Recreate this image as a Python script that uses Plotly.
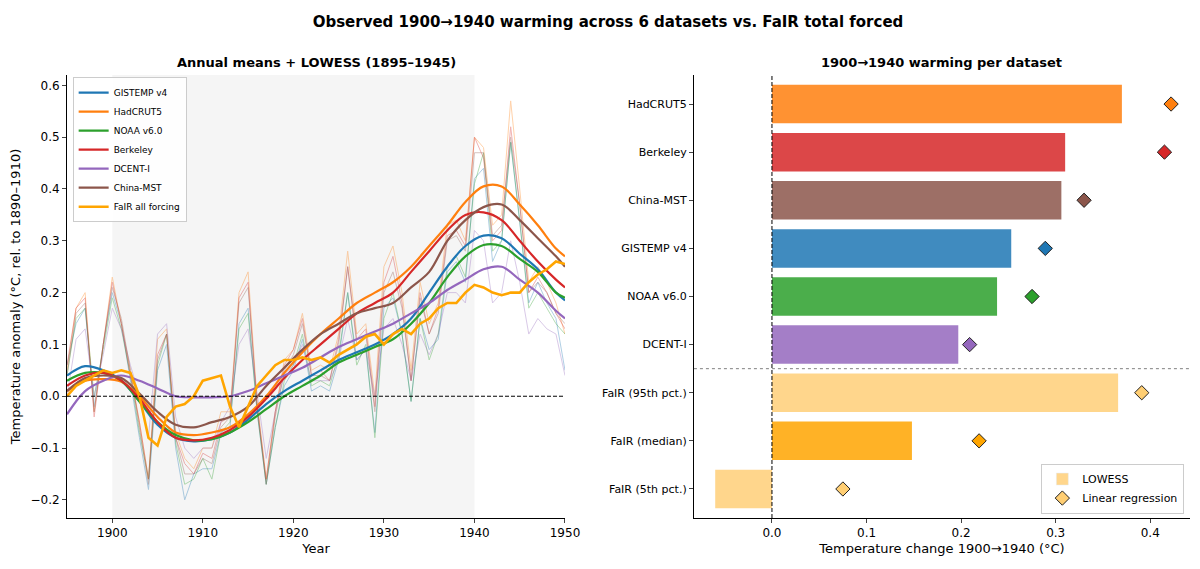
import plotly.graph_objects as go

years = list(range(1895, 1951))
annual = {
 "GISTEMP v4": [.06,.14,.17,-.02,.1,.2,.14,.03,-.08,-.18,.05,.1,-.1,-.2,-.15,-.14,-.14,-.07,-.06,.14,.17,-.03,-.17,-.06,.02,.05,.11,.01,.02,.01,.07,.2,.07,.09,-.07,.17,.19,.12,-.01,.15,.09,.11,.24,.26,.22,.42,.44,.26,.3,.49,.33,.18,.22,.18,.15,.05],
 "HadCRUT5": [.05,.17,.2,-.03,.1,.23,.14,.05,-.05,-.16,.11,.13,-.07,-.12,-.14,-.1,-.1,-.03,-.03,.2,.24,-.01,-.16,-.03,.07,.09,.16,.05,.06,.05,.12,.28,.12,.14,.0,.25,.29,.2,.05,.22,.14,.18,.33,.34,.3,.5,.48,.33,.35,.57,.4,.22,.25,.22,.18,.12],
 "NOAA v6.0": [.04,.15,.17,.0,.09,.19,.13,.04,-.07,-.16,.06,.12,-.09,-.17,-.16,-.12,-.16,-.07,-.05,.13,.16,-.03,-.17,-.06,.03,.06,.12,.02,.03,.02,.08,.2,.06,.1,-.08,.15,.2,.12,-.01,.15,.07,.12,.25,.27,.23,.41,.47,.28,.3,.49,.34,.17,.2,.17,.14,.12],
 "Berkeley": [.06,.17,.19,-.04,.1,.22,.14,.04,-.05,-.16,.08,.12,-.08,-.13,-.15,-.11,-.12,-.05,-.04,.19,.22,-.02,-.16,-.03,.06,.09,.15,.04,.05,.03,.11,.25,.11,.13,-.02,.22,.27,.18,.03,.2,.12,.17,.31,.32,.29,.5,.46,.3,.32,.52,.37,.2,.23,.2,.16,.13],
 "DCENT-I": [.0,.11,.13,.0,.08,.17,.13,.06,.0,-.08,.12,.14,-.04,-.1,-.12,-.1,-.1,-.05,-.02,.1,.13,.0,-.12,-.03,.04,.06,.1,.03,.03,.03,.07,.15,.07,.09,.0,.13,.15,.1,.03,.12,.08,.12,.2,.2,.18,.32,.3,.18,.2,.3,.22,.12,.15,.13,.12,.04],
 "China-MST": [.04,.16,.18,-.03,.1,.21,.15,.05,-.06,-.17,.07,.12,-.08,-.15,-.15,-.12,-.13,-.06,-.04,.18,.21,-.02,-.17,-.04,.05,.08,.14,.04,.04,.03,.1,.25,.1,.12,-.03,.2,.24,.17,.03,.19,.12,.16,.3,.31,.28,.47,.47,.31,.33,.5,.37,.2,.22,.2,.16,.14],
}
smooth_years = list(range(1895, 1950, 2)) + [1950]
smooth = {
 "GISTEMP v4": [.04,.058,.05,.03,-.01,-.055,-.08,-.087,-.083,-.07,-.045,-.015,.01,.03,.05,.07,.085,.1,.12,.15,.2,.25,.29,.31,.305,.275,.245,.2,.185],
 "HadCRUT5": [.01,.03,.033,.028,.0,-.04,-.07,-.075,-.07,-.06,-.035,.0,.045,.085,.12,.15,.18,.2,.22,.25,.29,.33,.375,.405,.405,.37,.33,.285,.27],
 "NOAA v6.0": [.03,.045,.045,.03,-.01,-.05,-.075,-.085,-.083,-.07,-.05,-.025,0,.02,.04,.065,.08,.095,.11,.14,.18,.23,.27,.292,.29,.265,.24,.2,.19],
 "Berkeley": [.02,.04,.045,.03,-.005,-.05,-.08,-.085,-.08,-.065,-.04,-.005,.035,.07,.1,.13,.16,.18,.2,.24,.28,.32,.35,.355,.34,.3,.26,.225,.21],
 "DCENT-I": [-.035,.01,.03,.04,.03,.015,.0,-.002,-.002,.0,.01,.025,.04,.055,.075,.095,.11,.125,.14,.16,.18,.205,.225,.245,.25,.225,.2,.165,.15],
 "China-MST": [.01,.035,.04,.035,.005,-.03,-.055,-.06,-.05,-.04,-.02,.02,.055,.09,.12,.14,.16,.17,.18,.21,.24,.3,.34,.365,.37,.34,.305,.27,.25],
}
fair = [0.0,.02,.03,.04,.05,.045,.05,.045,.0,-.08,-.095,-.04,-.02,-.015,.0,.03,.035,.04,-.02,-.06,-.02,.02,.04,.06,.07,.07,.075,.07,.075,.065,.08,.09,.1,.115,.12,.1,.12,.13,.12,.14,.15,.17,.18,.18,.2,.215,.21,.2,.195,.2,.2,.22,.235,.245,.26,.255]
colors = {"GISTEMP v4":"#1f77b4","HadCRUT5":"#ff7f0e","NOAA v6.0":"#2ca02c","Berkeley":"#d62728","DCENT-I":"#9467bd","China-MST":"#8c564b"}

bar_cats = ["HadCRUT5","Berkeley","China-MST","GISTEMP v4","NOAA v6.0","DCENT-I","FaIR (95th pct.)","FaIR (median)","FaIR (5th pct.)"]
lowess_vals = [.37,.31,.306,.253,.238,.197,.366,.148,-.06]
linreg_vals = [.422,.415,.33,.289,.275,.209,.391,.219,.075]
bar_colors = ["rgba(255,127,14,0.85)","rgba(214,39,40,0.85)","rgba(140,86,75,0.85)","rgba(31,119,180,0.85)","rgba(44,160,44,0.85)","rgba(148,103,189,0.85)","rgba(255,165,0,0.45)","rgba(255,165,0,0.85)","rgba(255,165,0,0.45)"]
mk_colors = ["#ff7f0e","#d62728","#8c564b","#1f77b4","#2ca02c","#9467bd","rgba(255,165,0,0.55)","#FFA500","rgba(255,165,0,0.55)"]

fig = go.Figure()
for k, v in annual.items():
    fig.add_trace(go.Scatter(x=years, y=v, mode="lines", line=dict(color=colors[k], width=1), opacity=0.35, showlegend=False, xaxis="x", yaxis="y"))
for k in ["GISTEMP v4","HadCRUT5","NOAA v6.0","Berkeley","DCENT-I","China-MST"]:
    fig.add_trace(go.Scatter(x=smooth_years, y=smooth[k], mode="lines", line=dict(color=colors[k], width=2.2, shape="spline"), name=k, legend="legend", xaxis="x", yaxis="y"))
fig.add_trace(go.Scatter(x=years, y=fair, mode="lines", line=dict(color="#FFA500", width=2.6), name="FaIR all forcing", legend="legend", xaxis="x", yaxis="y"))

fig.add_trace(go.Bar(y=bar_cats, x=lowess_vals, orientation="h", marker=dict(color=bar_colors, line=dict(width=0)), width=0.8, showlegend=False, xaxis="x2", yaxis="y2"))
fig.add_trace(go.Scatter(y=bar_cats, x=linreg_vals, mode="markers", marker=dict(symbol="diamond", size=11, color=mk_colors, line=dict(color="#222", width=1)), showlegend=False, xaxis="x2", yaxis="y2"))
fig.add_trace(go.Bar(y=[None], x=[None], orientation="h", marker=dict(color="rgba(255,165,0,0.45)"), name="LOWESS", legend="legend2", xaxis="x2", yaxis="y2"))
fig.add_trace(go.Scatter(y=[None], x=[None], mode="markers", marker=dict(symbol="diamond", size=11, color="rgba(255,165,0,0.55)", line=dict(color="#222", width=1)), name="Linear regression", legend="legend2", xaxis="x2", yaxis="y2"))

ax = dict(showline=True, linecolor="black", linewidth=1, ticks="outside", ticklen=4, showgrid=False, zeroline=False, automargin=False, tickfont=dict(size=12, color="black"))
L1 = [0.0062, 0.4469]
L2 = [0.561, 1.0]
fig.update_layout(
    width=1200, height=569, plot_bgcolor="white", paper_bgcolor="white",
    font=dict(family="DejaVu Sans", color="black"),
    margin=dict(l=52, r=18, t=67, b=59), barmode="overlay",
    title=dict(text="<b>Observed 1900→1940 warming across 6 datasets vs. FaIR total forced</b>", x=0.5, xanchor="center", y=0.985, yanchor="top", font=dict(size=15)),
    xaxis=dict(ax, domain=L1, range=[1895, 1950], dtick=10, title=dict(text="Year", font=dict(size=13), standoff=4)),
    yaxis=dict(ax, domain=[0, 1], range=[-0.235, 0.62], dtick=0.1, tickformat=".1f", title=dict(text="Temperature anomaly (°C, rel. to 1890–1910)", font=dict(size=13), standoff=6)),
    xaxis2=dict(ax, domain=L2, range=[-0.0825, 0.442], dtick=0.1, tickformat=".1f", anchor="y2", title=dict(text="Temperature change 1900→1940 (°C)", font=dict(size=13), standoff=4)),
    yaxis2=dict(ax, domain=[0, 1], anchor="x2", autorange="reversed", tickfont=dict(size=11, color="black")),
    legend=dict(x=L1[0]+0.005, y=0.995, xanchor="left", yanchor="top", bgcolor="rgba(255,255,255,0.9)", bordercolor="#ccc", borderwidth=1, font=dict(size=9), tracegroupgap=0),
    legend2=dict(x=0.995, y=0.01, xanchor="right", yanchor="bottom", bgcolor="rgba(255,255,255,0.9)", bordercolor="#ccc", borderwidth=1, font=dict(size=11)),
    annotations=[
        dict(text="<b>Annual means + LOWESS (1895–1945)</b>", x=sum(L1)/2, y=1, xref="paper", yref="paper", xanchor="center", yanchor="bottom", yshift=3, showarrow=False, font=dict(size=13)),
        dict(text="<b>1900→1940 warming per dataset</b>", x=sum(L2)/2, y=1, xref="paper", yref="paper", xanchor="center", yanchor="bottom", yshift=3, showarrow=False, font=dict(size=13)),
    ],
    shapes=[
        dict(type="rect", xref="x", yref="paper", x0=1900, x1=1940, y0=0, y1=1, fillcolor="#f5f5f5", line=dict(width=0), layer="below"),
        dict(type="line", xref="x", yref="y", x0=1895, x1=1950, y0=0, y1=0, line=dict(color="black", width=1, dash="4px,2px")),
        dict(type="line", xref="x2", yref="paper", x0=0, x1=0, y0=0, y1=1, line=dict(color="black", width=1, dash="4px,2px")),
        dict(type="line", xref="paper", yref="y2", x0=L2[0], x1=L2[1], y0=5.5, y1=5.5, line=dict(color="gray", width=1, dash="dot")),
    ],
)
fig.write_html("out.html")
